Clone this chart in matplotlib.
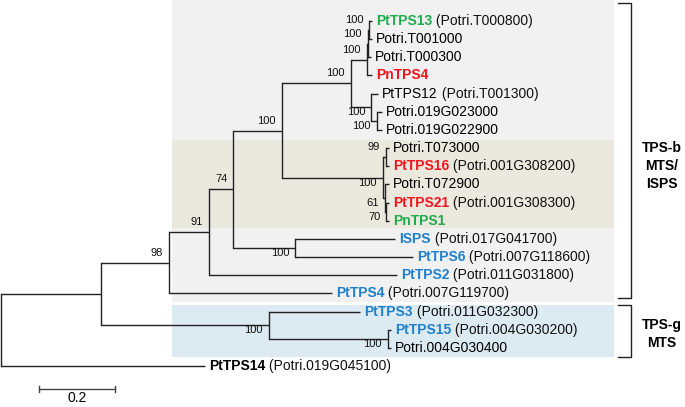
import matplotlib
matplotlib.use('Agg')
import matplotlib.pyplot as plt
from matplotlib.patches import Rectangle

plt.rcParams['font.family'] = ['Liberation Sans', 'DejaVu Sans']

# leaves, top to bottom
leaf_names = ['PtTPS13', 'Potri.T001000', 'Potri.T000300', 'PnTPS4', 'PtTPS12',
              'Potri.019G023000', 'Potri.019G022900', 'Potri.T073000', 'PtTPS16',
              'Potri.T072900', 'PtTPS21', 'PnTPS1', 'ISPS', 'PtTPS6', 'PtTPS2',
              'PtTPS4', 'PtTPS3', 'PtTPS15', 'Potri.004G030400', 'PtTPS14']
leaf_ids = ['(Potri.T000800)', '', '', '', '(Potri.T001300)', '', '', '',
            '(Potri.001G308200)', '', '(Potri.001G308300)', '', '(Potri.017G041700)',
            '(Potri.007G118600)', '(Potri.011G031800)', '(Potri.007G119700)',
            '(Potri.011G032300)', '(Potri.004G030200)', '', '(Potri.019G045100)']
leaf_colors = ['green', 'k', 'k', 'red', 'k', 'k', 'k', 'k', 'red', 'k', 'red', 'green',
               'blue', 'blue', 'blue', 'blue', 'blue', 'blue', 'k', 'k']
leaf_bold = [True, False, False, True, False, False, False, False, True, False, True, True,
             True, True, True, True, True, True, False, True]
# distance from root (substitutions per site)
leaf_depth = [0.976, 0.976, 0.974, 0.976, 0.992, 1.003, 1.003, 1.021, 1.021, 1.021,
              1.021, 1.021, 1.037, 1.084, 1.042, 0.871, 0.945, 1.026, 1.026, 0.537]

# internal nodes: name, depth, children (int = leaf index), bootstrap, label side
node_names = ['root', 'A', 'B', 'C', 'D', 'E', 'G', 'I', 'K', 'L', 'J', 'M',
              'H', 'N', 'P', 'O', 'F', 'Q', 'R']
node_depth = [0.0, 0.263, 0.442, 0.547, 0.611, 0.739, 0.921, 0.962, 0.966, 0.969,
              0.974, 0.989, 1.005, 1.013, 1.011, 1.014, 0.774, 0.705, 1.018]
node_children = [['A', 19], ['B', 'Q'], ['C', 15], ['D', 14], ['E', 'F'], ['G', 'H'],
                 ['I', 'J'], ['K', 3], ['L', 2], [0, 1], [4, 'M'], [5, 6],
                 ['N', 'P'], [7, 8], [9, 'O'], [10, 11], [12, 13], [16, 'R'], [17, 18]]
node_support = [None, None, 98, 91, 74, 100, 100, 100, 100, 100, 100, 100,
                100, 99, 61, 70, 100, 100, 100]
support_above = [False, False, True, True, True, True, True, True, True, True, False, False,
                 False, True, False, False, False, False, False]

palette = {'green': '#1faa4b', 'red': '#f5141e', 'blue': '#1f7fcc', 'k': 'black'}
line_col = '#222222'

# pixel helpers (tree drawn at 380 px per unit, 18.16 px per leaf row)
def X(px):
    return (px - 1) / 380.0

def Y(py):
    return (py - 21) / 18.16


fig = plt.figure(figsize=(6.85, 4.07), dpi=100)
ax = fig.add_axes([0, 0, 1, 1])
ax.set_xlim(X(0), X(685))
ax.set_ylim(Y(407), Y(0))
ax.axis('off')

# shaded clade boxes
ax.add_patch(Rectangle((X(172), Y(0)), X(614) - X(172), Y(302) - Y(0), color='#f1f1f1', lw=0, zorder=0))
ax.add_patch(Rectangle((X(172), Y(140)), X(614) - X(172), Y(228) - Y(140), color='#ebe8de', lw=0, zorder=0))
ax.add_patch(Rectangle((X(172), Y(305)), X(614) - X(172), Y(357) - Y(305), color='#dcebf2', lw=0, zorder=0))

# node positions
pos = {}

def place(name):
    i = node_names.index(name)
    ys = []
    for c in node_children[i]:
        if isinstance(c, int):
            ys.append(c)
        else:
            ys.append(place(c)[1])
    pos[name] = (node_depth[i], (min(ys) + max(ys)) / 2.0)
    return pos[name]

place('root')

for i, name in enumerate(node_names):
    nx, ny = pos[name]
    cys = []
    for c in node_children[i]:
        if isinstance(c, int):
            cx, cy = leaf_depth[c], c
        else:
            cx, cy = pos[c]
        cys.append(cy)
        ax.plot([nx, cx], [cy, cy], color=line_col, lw=1.0, solid_capstyle='butt')
    ax.plot([nx, nx], [min(cys), max(cys)], color=line_col, lw=1.0, solid_capstyle='projecting')
    if node_support[i] is not None:
        dy = 10 if support_above[i] else -5
        ax.annotate(str(node_support[i]), xy=(nx, ny), xytext=(-6, dy), textcoords='offset pixels',
                    ha='right', va='center', fontsize=8, color='#111111')

# leaf labels
for i in range(len(leaf_names)):
    t1 = ax.annotate(leaf_names[i], xy=(leaf_depth[i], i), xytext=(4, 0), textcoords='offset pixels',
                     ha='left', va='center', fontsize=10, color=palette[leaf_colors[i]],
                     fontweight='bold' if leaf_bold[i] else 'normal')
    if leaf_ids[i]:
        ax.annotate(' ' + leaf_ids[i], xy=(1, 0), xycoords=t1, ha='left', va='bottom',
                    fontsize=10, color='#111111')

# group brackets
def bracket(top, bottom):
    ax.plot([X(618), X(631), X(631), X(618)], [Y(top), Y(top), Y(bottom), Y(bottom)],
            color=line_col, lw=1.0)

bracket(3, 298)
bracket(305, 357)
ax.text(X(662), Y(166), 'TPS-b\nMTS/\nISPS', ha='center', va='center', fontsize=10,
        fontweight='bold', linespacing=1.35)
ax.text(X(662), Y(334), 'TPS-g\nMTS', ha='center', va='center', fontsize=10,
        fontweight='bold', linespacing=1.35)

# scale bar
sb_y = Y(389)
ax.plot([0.1, 0.3], [sb_y, sb_y], color='#444444', lw=1.0)
for sx in (0.1, 0.3):
    ax.plot([sx, sx], [sb_y - 0.17, sb_y + 0.17], color='#444444', lw=1.0)
ax.text(0.2, Y(398), '0.2', ha='center', va='center', fontsize=10)

fig.savefig('out.png', dpi=100)
